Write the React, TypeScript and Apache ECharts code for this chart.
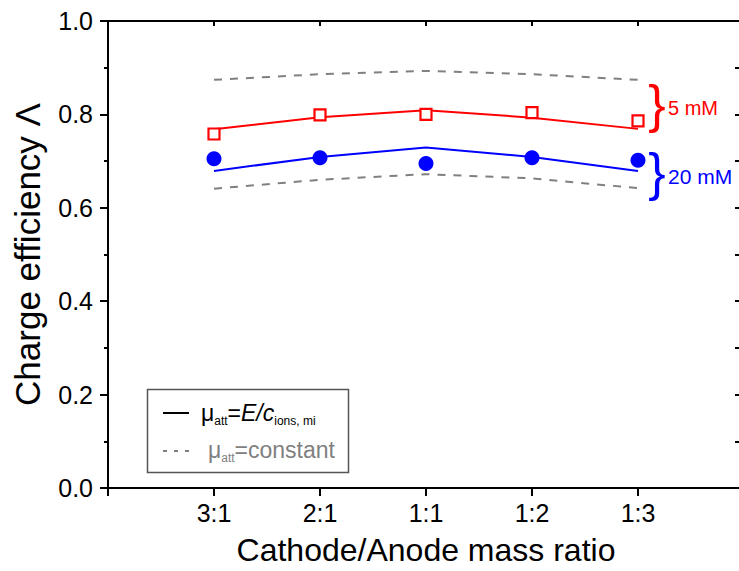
import React, { useEffect, useRef } from "react";
import * as echarts from "echarts";

const categories = ["3:1", "2:1", "1:1", "1:2", "1:3"];
const positions = [1, 2, 3, 4, 5];
const red5mMData = [0.758, 0.799, 0.8, 0.804, 0.786];
const red5mMModel = [0.768, 0.794, 0.809, 0.793, 0.769];
const blue20mMData = [0.705, 0.707, 0.695, 0.707, 0.702];
const blue20mMModel = [0.679, 0.709, 0.729, 0.709, 0.679];
const constUpper = [0.874, 0.886, 0.893, 0.886, 0.874];
const constLower = [0.641, 0.66, 0.672, 0.663, 0.642];
const yTicks = [0, 0.2, 0.4, 0.6, 0.8, 1.0];
const xTopTicks = [0, 1, 2, 3, 4, 5, 6];

const FONT = "'Liberation Sans', Arial, sans-serif";

const pts = (vals: number[]) => vals.map((v, i) => [positions[i], v]);

export default function App() {
  const ref = useRef<HTMLDivElement>(null);
  useEffect(() => {
    if (!ref.current) return;
    const chart = echarts.init(ref.current, undefined, { renderer: "svg" });
    const mkLine = () => ({ show: true, onZero: false, lineStyle: { color: "#000", width: 2 } });
    const option: any = {
      animation: false,
      backgroundColor: "#fff",
      textStyle: { fontFamily: FONT },
      grid: {
        left: 108,
        top: 21,
        right: -5,
        bottom: 83,
        containLabel: false,
        outerBoundsMode: "none",
      },
      xAxis: [
        {
          type: "value",
          min: 0,
          max: 6,
          interval: 1,
          position: "bottom",
          axisLine: mkLine(),
          axisTick: { show: true, inside: false, length: 8, lineStyle: { color: "#000", width: 2 } },
          axisLabel: {
            show: true,
            fontSize: 25,
            color: "#000",
            fontFamily: FONT,
            margin: 12,
            formatter: (v: number) => {
              const i = positions.indexOf(v);
              return i >= 0 ? categories[i] : "";
            },
          },
          splitLine: { show: false },
          name: "Cathode/Anode mass ratio",
          nameLocation: "middle",
          nameGap: 46,
          nameTextStyle: { fontSize: 32, color: "#000", fontFamily: FONT },
        },
        {
          type: "value",
          min: 0,
          max: 6,
          interval: 1,
          position: "top",
          axisLine: mkLine(),
          axisTick: { show: true, inside: true, length: 5, lineStyle: { color: "#000", width: 2 } },
          axisLabel: { show: false },
          splitLine: { show: false },
        },
      ],
      yAxis: [
        {
          type: "value",
          min: 0,
          max: 1,
          interval: 0.2,
          position: "left",
          axisLine: mkLine(),
          axisTick: { show: true, inside: false, length: 8, lineStyle: { color: "#000", width: 2 } },
          minorTick: { show: true, splitNumber: 2, length: 4, lineStyle: { color: "#000", width: 2 } },
          axisLabel: {
            fontSize: 25,
            color: "#000",
            fontFamily: FONT,
            margin: 15,
            formatter: (v: number) => {
              const t = yTicks.find((y) => Math.abs(y - v) < 1e-6);
              return t === undefined ? "" : t.toFixed(1);
            },
          },
          splitLine: { show: false },
          name: "Charge efficiency \u039b",
          nameLocation: "middle",
          nameGap: 63,
          nameTextStyle: { fontSize: 35, color: "#000", fontFamily: FONT },
        },
        {
          type: "value",
          min: 0,
          max: 1,
          interval: 0.1,
          position: "right",
          axisLine: mkLine(),
          axisTick: { show: true, inside: true, length: 9, lineStyle: { color: "#000", width: 2 } },
          axisLabel: { show: false },
          splitLine: { show: false },
        },
      ],
      series: [
        { type: "line", data: pts(constUpper), symbol: "none", lineStyle: { color: "#808080", width: 2, type: [8, 8] }, z: 2 },
        { type: "line", data: pts(constLower), symbol: "none", lineStyle: { color: "#808080", width: 2, type: [8, 8] }, z: 2 },
        { type: "line", data: pts(red5mMModel), symbol: "none", lineStyle: { color: "#ff0000", width: 2 }, z: 3 },
        { type: "line", data: pts(blue20mMModel), symbol: "none", lineStyle: { color: "#0000ff", width: 2 }, z: 3 },
        {
          type: "scatter",
          data: pts(red5mMData),
          symbol: "rect",
          symbolSize: 11,
          itemStyle: { color: "#fff", borderColor: "#ff0000", borderWidth: 2.2, opacity: 1 },
          z: 4,
        },
        {
          type: "scatter",
          data: pts(blue20mMData),
          symbol: "circle",
          symbolSize: 15,
          itemStyle: { color: "#0000ff", opacity: 1 },
          z: 4,
        },
      ],
    };
    chart.setOption(option);

    // top frame line and inward ticks, positioned through the chart's own scales
    const finder: any = { xAxisIndex: 0, yAxisIndex: 0 };
    const topLeft = chart.convertToPixel(finder, [0, 1]) as number[];
    const topRight = chart.convertToPixel(finder, [6, 1]) as number[];
    const frame: any[] = [
      {
        type: "line",
        shape: { x1: topLeft[0] - 1, y1: topLeft[1], x2: topRight[0], y2: topRight[1] },
        style: { stroke: "#000", lineWidth: 2 },
        z: 20,
      },
      ...xTopTicks.map((v) => {
        const p = chart.convertToPixel(finder, [v, 1]) as number[];
        return {
          type: "line",
          shape: { x1: p[0], y1: p[1], x2: p[0], y2: p[1] + 5 },
          style: { stroke: "#000", lineWidth: 2 },
          z: 20,
        };
      }),
    ];

    const legend: any[] = [
      {
        type: "rect",
        shape: { x: 147.5, y: 389.5, width: 201, height: 83 },
        style: { fill: "#fff", stroke: "#555", lineWidth: 1.5 },
        z: 10,
      },
      {
        type: "line",
        shape: { x1: 163, y1: 413, x2: 189, y2: 413 },
        style: { stroke: "#000", lineWidth: 2 },
        z: 11,
      },
      {
        type: "line",
        shape: { x1: 163, y1: 451, x2: 189, y2: 451 },
        style: { stroke: "#808080", lineWidth: 2, lineDash: [4, 7] },
        z: 11,
      },
      {
        type: "text",
        x: 201,
        y: 413,
        z: 11,
        style: {
          text: "{a|\u03bc}{s|att}{a|=}{i|E/c}{s|ions, mi}",
          fill: "#000",
          verticalAlign: "middle",
          align: "left",
          rich: {
            a: { fontSize: 23, fontFamily: FONT, fill: "#000" },
            i: { fontSize: 23, fontFamily: FONT, fontStyle: "italic", fill: "#000" },
            s: { fontSize: 12, fontFamily: FONT, fill: "#000", padding: [16, 0, 0, 0] },
          },
        },
      },
      {
        type: "text",
        x: 208,
        y: 450,
        z: 11,
        style: {
          text: "{a|\u03bc}{s|att}{a|=constant}",
          fill: "#808080",
          verticalAlign: "middle",
          align: "left",
          rich: {
            a: { fontSize: 23, fontFamily: FONT, fill: "#808080" },
            s: { fontSize: 12, fontFamily: FONT, fill: "#808080", padding: [16, 0, 0, 0] },
          },
        },
      },
      {
        type: "text",
        x: 657,
        y: 104,
        z: 11,
        style: { text: "}", fontSize: 52, fontFamily: FONT, fill: "#ff0000", align: "center", verticalAlign: "middle" },
      },
      {
        type: "text",
        x: 668,
        y: 108,
        z: 11,
        style: { text: "5 mM", fontSize: 20, fontFamily: FONT, fill: "#ff0000", align: "left", verticalAlign: "middle" },
      },
      {
        type: "text",
        x: 657,
        y: 172,
        z: 11,
        style: { text: "}", fontSize: 52, fontFamily: FONT, fill: "#0000ff", align: "center", verticalAlign: "middle" },
      },
      {
        type: "text",
        x: 668,
        y: 176,
        z: 11,
        style: { text: "20 mM", fontSize: 21, fontFamily: FONT, fill: "#0000ff", align: "left", verticalAlign: "middle" },
      },
    ];
    chart.setOption({ graphic: [...frame, ...legend] });
    return () => chart.dispose();
  }, []);
  return (
    <div
      ref={ref}
      style={{ position: "absolute", left: 0, top: 0, width: 739, height: 571, overflow: "hidden" }}
    />
  );
}
